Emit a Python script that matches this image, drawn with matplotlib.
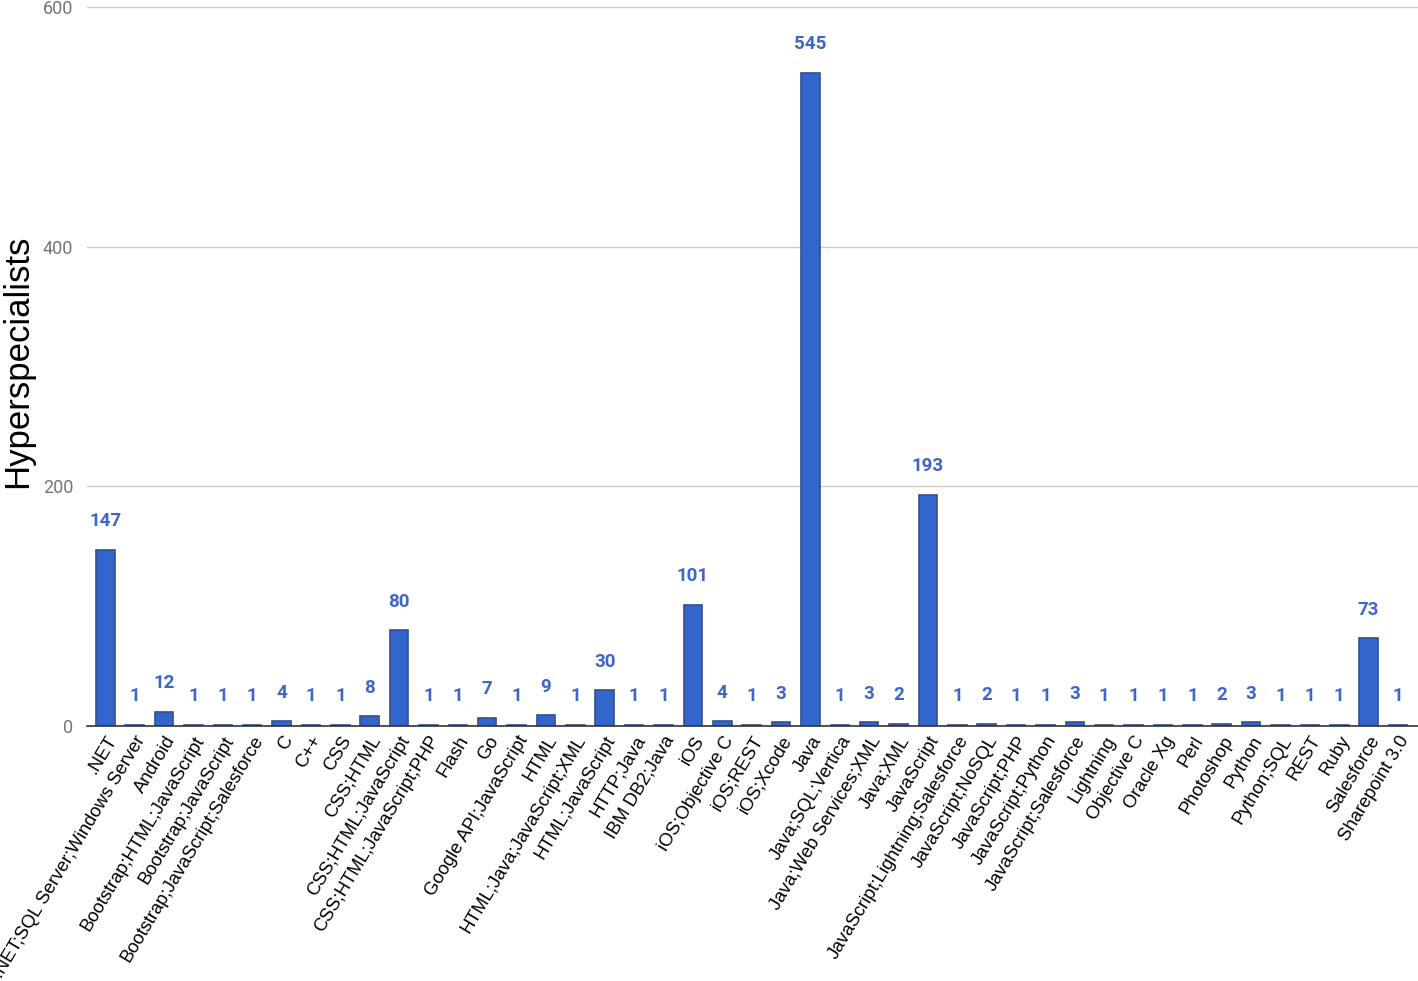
import matplotlib
matplotlib.use('Agg')
import matplotlib.pyplot as plt

# categories and counts
categories = ['.NET', '.NET;SQL Server;Windows Server', 'Android', 'Bootstrap;HTML;JavaScript',
              'Bootstrap;JavaScript', 'Bootstrap;JavaScript;Salesforce', 'C', 'C++', 'CSS', 'CSS;HTML',
              'CSS;HTML;JavaScript', 'CSS;HTML;JavaScript;PHP', 'Flash', 'Go', 'Google API;JavaScript',
              'HTML', 'HTML;Java;JavaScript;XML', 'HTML;JavaScript', 'HTTP;Java', 'IBM DB2;Java', 'iOS',
              'iOS;Objective C', 'iOS;REST', 'iOS;Xcode', 'Java', 'Java;SQL;Vertica', 'Java;Web Services;XML',
              'Java;XML', 'JavaScript', 'JavaScript;Lightning;Salesforce', 'JavaScript;NoSQL', 'JavaScript;PHP',
              'JavaScript;Python', 'JavaScript;Salesforce', 'Lightning', 'Objective C', 'Oracle Xg', 'Perl',
              'Photoshop', 'Python', 'Python;SQL', 'REST', 'Ruby', 'Salesforce', 'Sharepoint 3.0']
counts = [147, 1, 12, 1, 1, 1, 4, 1, 1, 8,
          80, 1, 1, 7, 1, 9, 1, 30, 1, 1, 101,
          4, 1, 3, 545, 1, 3, 2, 193, 1, 2, 1,
          1, 3, 1, 1, 1, 1, 2, 3, 1, 1, 1, 73, 1]
yticks = [0, 200, 400, 600]

barColor = '#3366cc'
labelColor = '#3d66c9'

fig = plt.figure(figsize=(14.18, 9.81), dpi=100)
ax = fig.add_axes([0.0614, 0.26, 0.9386, 0.733])

x = list(range(len(categories)))
#thin edge so the 1-count bars stay visible like in the original
ax.bar(x, counts, width=0.63, color=barColor, edgecolor='#34508a', linewidth=1.2, zorder=3)

#value labels above each bar
for xi, v in zip(x, counts):
    ax.annotate(str(v), (xi, v), xytext=(0, 14), textcoords='offset points',
                ha='center', va='bottom', fontsize=13.5, fontweight='bold',
                color=labelColor, family=['Roboto', 'DejaVu Sans'])

ax.set_ylim(0, 600)
ax.set_xlim(-0.62, len(categories) - 1 + 0.68)
ax.set_yticks(yticks)
ax.set_yticklabels([str(t) for t in yticks], fontsize=13, color='#757575', family=['Roboto', 'DejaVu Sans'])
ax.tick_params(axis='y', length=0, pad=10)
ax.tick_params(axis='x', length=0, pad=5)
ax.set_xticks(x)
ax.set_xticklabels(categories, rotation=59, ha='right', rotation_mode='anchor',
                   fontsize=13.2, family=['Liberation Sans', 'DejaVu Sans'])

ax.grid(axis='y', color='#cccccc', linewidth=1, zorder=0)
for side in ['top', 'right', 'left']:
    ax.spines[side].set_visible(False)
ax.spines['bottom'].set_color('#333333')
ax.spines['bottom'].set_linewidth(1.2)
ax.spines['bottom'].set_zorder(4)

#y axis title placed on the figure, centred where the original has it
fig.text(0.0125, 0.632, 'Hyperspecialists', rotation=90, ha='center', va='center',
         fontsize=25, family=['Liberation Sans', 'DejaVu Sans'])

plt.savefig('out.png', dpi=100, facecolor='white')
